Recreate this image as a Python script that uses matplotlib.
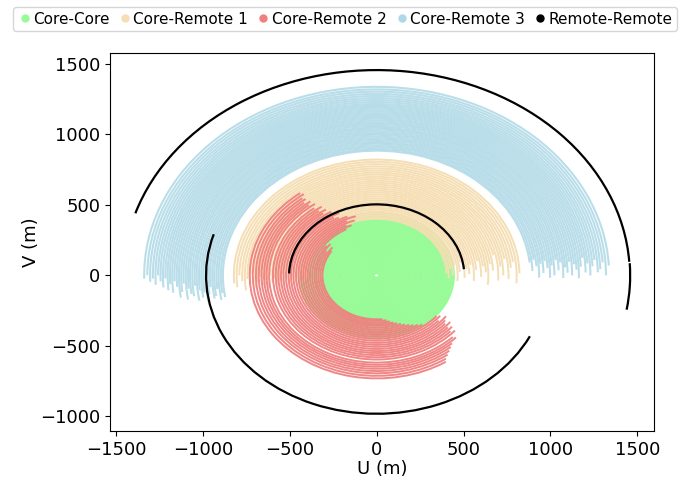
import matplotlib
matplotlib.use("Agg")
import matplotlib.pyplot as plt
from matplotlib.patches import Arc
from matplotlib.lines import Line2D

# uv tracks: radius (m), start / end angle (deg) for each baseline
green_r = [16, 26, 36, 46, 56, 66, 76, 86, 96, 106, 116, 126, 136, 146, 156,
           166, 176, 186, 196, 206, 216, 226, 236, 246, 256, 266, 276, 286,
           296, 306, 316, 326, 336, 346, 356, 366, 376, 386, 396, 406, 416,
           426, 436, 444]
green_t1 = [0] * len(green_r)
green_t2 = [360] * len(green_r)

tan_r = [402, 414, 427, 439, 452, 466, 479, 492, 506, 519, 533, 546, 560, 574,
         588, 601, 615, 629, 643, 657, 671, 686, 700, 715, 729, 744, 759, 774,
         790, 806, 822]
tan_t1 = [2, -3, 6, 0, 9, -5, 3, 11, -2, 5, 1, 8, -4, 4, 10, -1, 6, 2, -6, 7,
          3, 12, -3, 5, 0, 9, -2, 4, 7, -4, 1]
tan_t2 = [183, 186, 180, 185, 179, 187, 182, 184, 188, 181, 186, 179, 184, 187,
          182, 185, 180, 188, 183, 186, 181, 184, 187, 179, 185, 182, 188, 183,
          180, 186, 184]

red_r = [312, 323, 335, 347, 358, 371, 384, 397, 410, 423, 436, 450, 464, 479,
         493, 507, 522, 537, 551, 566, 581, 597, 619, 634, 648, 663, 679, 695,
         713, 731]
red_t1 = [146, 142, 149, 140, 144, 118, 112, 116, 108, 114, 106, 112, 118, 121,
          116, 123, 120, 125, 122, 126, 123, 127, 125, 128, 126, 129, 127, 128,
          126, 127]
red_t2 = [276, 280, 283, 286, 289, 292, 295, 298, 301, 304, 307, 320, 322, 318,
          324, 321, 319, 322, 318, 320, 317, 319, 315, 316, 312, 310, 308, 306,
          304, 303]

blue_r = [885, 897, 910, 922, 935, 947, 960, 972, 985, 998, 1010, 1023, 1036,
          1048, 1061, 1074, 1086, 1099, 1112, 1125, 1138, 1151, 1164, 1177,
          1190, 1203, 1216, 1230, 1244, 1258, 1273, 1288, 1304, 1320, 1338]
blue_t1 = [6, 2, 7, 4, -1, 5, 1, 6, 3, -1, 4, 0, 6, 2, 5, -1, 3, 1, 5, 0, 4,
           2, -1, 3, 6, 1, 4, 0, 3, 5, 1, 2, 4, 0, 3]
blue_t2 = [190, 188, 191, 186, 189, 190, 185, 188, 191, 187, 189, 186, 190,
           184, 188, 187, 185, 189, 183, 186, 188, 184, 182, 186, 183, 185, 181,
           184, 182, 180, 183, 181, 182, 180, 181]

rr_r = [1457, 1459, 982, 504]
rr_t1 = [3.8, -9.6, 162.7, 5.0]
rr_t2 = [162.4, 3.4, 333.9, 178.4]

groups = [
    ("Core-Core", "palegreen", 1.0, 1.6, green_r, green_t1, green_t2),
    ("Core-Remote 1", "wheat", 1.0, 1.4, tan_r, tan_t1, tan_t2),
    ("Core-Remote 2", "lightcoral", 0.95, 1.4, red_r, red_t1, red_t2),
    ("Core-Remote 3", "lightblue", 0.85, 1.5, blue_r, blue_t1, blue_t2),
    ("Remote-Remote", "black", 1.0, 1.6, rr_r, rr_t1, rr_t2),
]

fig = plt.figure(figsize=(6.83, 4.79), dpi=100)
ax = fig.add_axes([0.161, 0.1, 0.797, 0.789])

handles = []
for name, col, alpha, lw, rads, t1s, t2s in groups:
    for r, t1, t2 in zip(rads, t1s, t2s):
        ax.add_patch(Arc((0, 0), 2 * r, 2 * r, theta1=t1, theta2=t2,
                         color=col, alpha=alpha, lw=lw))
    handles.append(Line2D([], [], marker='o', ls='', color=col,
                          markersize=5, label=name))

ax.set_xlim(-1535, 1598)
ax.set_ylim(-1105, 1577)
ax.set_xticks([-1500, -1000, -500, 0, 500, 1000, 1500])
ax.set_yticks([-1000, -500, 0, 500, 1000, 1500])
ax.tick_params(labelsize=13)
ax.set_xlabel("U (m)", fontsize=13, labelpad=1)
ax.set_ylabel("V (m)", fontsize=13, labelpad=0)

fig.legend(handles=handles, loc='upper center', bbox_to_anchor=(0.505, 0.985),
           ncol=5, fontsize=11, handletextpad=0.05, columnspacing=0.5,
           handlelength=1.0, borderpad=0.3, borderaxespad=0)

plt.savefig("out.png", dpi=100)
